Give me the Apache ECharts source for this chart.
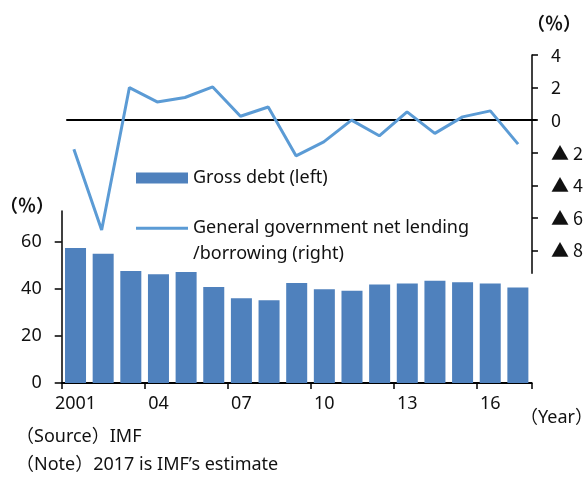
<!DOCTYPE html>
<html>
<head>
<meta charset="utf-8">
<script src="https://cdn.jsdelivr.net/npm/echarts@6/dist/echarts.min.js"></script>
<style>
  html, body { margin: 0; padding: 0; background: #fff; }
  #chart { width: 586px; height: 477px; }
</style>
</head>
<body>
<div id="chart"></div>
<script>
// Fiscal year categories
const years = ['2001', '2002', '2003', '2004', '2005', '2006', '2007', '2008', '2009',
               '2010', '2011', '2012', '2013', '2014', '2015', '2016', '2017'];

// Gross debt, % of GDP (left axis)
const grossDebt = [57.3, 54.9, 47.5, 46.2, 47.1, 40.7, 36.0, 35.1, 42.4,
                   39.8, 39.1, 41.8, 42.2, 43.4, 42.8, 42.2, 40.5];

// General government net lending / borrowing, % of GDP (right axis)
const netLending = [-1.78, -6.74, 2.0, 1.12, 1.39, 2.04, 0.24, 0.81, -2.19,
                    -1.33, 0.0, -0.96, 0.51, -0.81, 0.2, 0.57, -1.47];

// Tick values shown on each value axis
const leftTicks = [0, 20, 40, 60];
const rightTicks = [4, 2, 0, -2, -4, -6, -8];

const debtName = 'Gross debt (left)';
const lendingName = 'General government net lending/borrowing (right)';

const FONT = "'Noto Sans', 'Noto Sans CJK JP', 'DejaVu Sans', sans-serif";
const CJK = "'Noto Sans CJK JP', 'Noto Sans', sans-serif";
const TXT = '#111';

const chart = echarts.init(document.getElementById('chart'), null, { renderer: 'canvas' });

chart.setOption({
  animation: false,
  backgroundColor: '#fff',
  textStyle: { fontFamily: FONT, color: TXT },
  grid: [
    // bars
    { left: 61.7, top: 211, width: 470, height: 172 },
    // balance line
    { left: 60, top: 55, width: 476, height: 218.3 },
    // zero reference of the balance panel
    { left: 67, top: 55, width: 469, height: 218.3 }
  ],
  xAxis: [
    {
      type: 'category', gridIndex: 0, data: years, boundaryGap: true,
      axisLine: { lineStyle: { color: '#000', width: 2 } },
      axisTick: { show: true, interval: 2, length: 6, lineStyle: { color: '#000', width: 1.5 } },
      axisLabel: {
        interval: 2, margin: 12, fontSize: 18, color: TXT, fontFamily: FONT,
        formatter: (v, i) => (i === 0 ? v : v.slice(2))
      }
    },
    {
      type: 'category', gridIndex: 1, data: years, boundaryGap: true,
      axisLine: { show: false }, axisTick: { show: false }, axisLabel: { show: false }
    },
    {
      type: 'category', gridIndex: 2, data: years, boundaryGap: true,
      axisLine: { onZero: true, lineStyle: { color: '#000', width: 2 } },
      axisTick: { show: false }, axisLabel: { show: false }
    }
  ],
  yAxis: [
    {
      type: 'value', gridIndex: 0, min: 0, max: 73,
      splitLine: { show: false },
      axisLine: { show: true, lineStyle: { color: '#000', width: 1.5 } },
      axisTick: { show: true, length: 7, customValues: leftTicks, lineStyle: { color: '#000', width: 1.5 } },
      axisLabel: { customValues: leftTicks, margin: 20, fontSize: 18, color: TXT, fontFamily: FONT }
    },
    {
      type: 'value', gridIndex: 1, position: 'right', min: -9.4, max: 4,
      splitLine: { show: false },
      axisLine: { show: true, lineStyle: { color: '#000', width: 1.5 } },
      axisTick: { show: true, length: 6, customValues: rightTicks, lineStyle: { color: '#000', width: 1.5 } },
      axisLabel: {
        customValues: rightTicks, margin: 19, fontSize: 18, color: TXT, fontFamily: CJK,
        formatter: v => (v < 0 ? '\u25B2 ' + (-v) : String(v))
      }
    },
    {
      type: 'value', gridIndex: 2, min: -9.4, max: 4, show: false
    }
  ],
  legend: [
    {
      data: [debtName], left: 136, top: 165, padding: 0, orient: 'vertical',
      itemWidth: 52, itemHeight: 11, icon: 'rect',
      textStyle: { fontSize: 18, lineHeight: 26, color: TXT, fontFamily: FONT }
    },
    {
      data: [lendingName], left: 136, top: 189.3, padding: 0, orient: 'vertical',
      itemWidth: 52, itemHeight: 3, icon: 'rect',
      formatter: name => '\n' + name.replace('/', '\n/'),
      textStyle: { fontSize: 18, lineHeight: 26, color: TXT, fontFamily: FONT }
    }
  ],
  series: [
    {
      name: debtName, type: 'bar', xAxisIndex: 0, yAxisIndex: 0,
      data: grossDebt, barCategoryGap: '24%',
      itemStyle: { color: '#4F81BD' }, z: 2
    },
    {
      name: lendingName, type: 'line', xAxisIndex: 1, yAxisIndex: 1,
      data: netLending, symbol: 'none',
      lineStyle: { color: '#5B9BD5', width: 3 }, itemStyle: { color: '#5B9BD5' }, z: 4
    }
  ],
  graphic: [
    { type: 'text', left: 0, top: 196, style: { text: '（％）', font: 'bold 18px ' + CJK, fill: TXT } },
    { type: 'text', left: 527, top: 14, style: { text: '（％）', font: 'bold 18px ' + CJK, fill: TXT } },
    { type: 'text', left: 520, top: 409, style: { text: '（Year）', font: '18px ' + FONT, fill: TXT } },
    { type: 'text', left: 16, top: 428, style: { text: '（Source）IMF', font: '18px ' + FONT, fill: TXT } },
    { type: 'text', left: 16, top: 456, style: { text: '（Note）2017 is IMF\u2019s estimate', font: '18px ' + FONT, fill: TXT } }
  ]
});
</script>
</body>
</html>
